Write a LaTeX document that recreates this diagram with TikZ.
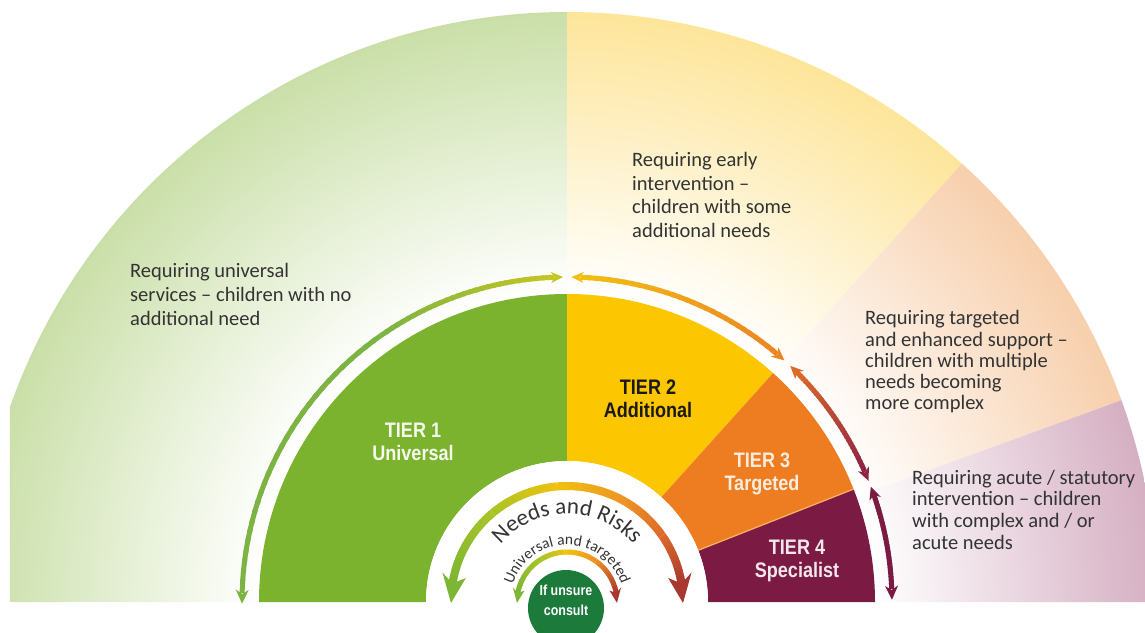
\documentclass[tikz,border=0pt]{standalone}
\usepackage{fontspec}
\newfontfamily\bodyf{Carlito}
\newfontfamily\tierf{Liberation Sans}[FakeStretch=0.86]
\usetikzlibrary{decorations.text}
\definecolor{bgGreen}{HTML}{CADFA8}
\definecolor{bgYellow}{HTML}{FDE59A}
\definecolor{bgPeach}{HTML}{F7CFAC}
\definecolor{bgMauve}{HTML}{D5AFC2}
\definecolor{tGreen}{HTML}{7BB32E}
\definecolor{tYellow}{HTML}{FCC600}
\definecolor{tOrange}{HTML}{EE7D22}
\definecolor{tMaroon}{HTML}{7B1B43}
\definecolor{cGreen}{HTML}{1C7A3B}
\definecolor{txt}{HTML}{333333}
\definecolor{aGreen}{HTML}{7CB342}
\definecolor{aYG}{HTML}{C3C623}
\definecolor{aYel}{HTML}{F2BE12}
\definecolor{aOr}{HTML}{EC8524}
\definecolor{aRO}{HTML}{DC6A2A}
\definecolor{aRed}{HTML}{8E2443}
\definecolor{aMar}{HTML}{7B1B43}
\definecolor{iGreen}{HTML}{7DB534}
\definecolor{iYG}{HTML}{A8C428}
\definecolor{iYel}{HTML}{EEC20E}
\definecolor{iOr}{HTML}{EE9224}
\definecolor{iRO}{HTML}{DC6A2A}
\definecolor{iRed}{HTML}{A8382F}
\pgfdeclareradialshading{bgG}{\pgfpointorigin}{color(0bp)=(white); color(13bp)=(white); color(25bp)=(bgGreen); color(50bp)=(bgGreen)}
\pgfdeclareradialshading{bgY}{\pgfpointorigin}{color(0bp)=(white); color(13bp)=(white); color(25bp)=(bgYellow); color(50bp)=(bgYellow)}
\pgfdeclareradialshading{bgP}{\pgfpointorigin}{color(0bp)=(white); color(13bp)=(white); color(25bp)=(bgPeach); color(50bp)=(bgPeach)}
\pgfdeclareradialshading{bgM}{\pgfpointorigin}{color(0bp)=(white); color(13bp)=(white); color(25bp)=(bgMauve); color(50bp)=(bgMauve)}
% gradient arc: radius, start angle, end angle, start colour, end colour, width
\newcommand\garc[6]{%
  \foreach \k in {0,...,29}{%
    \pgfmathsetmacro\aA{#2+(#3-#2)*\k/30}%
    \pgfmathsetmacro\aB{#2+(#3-#2)*min(\k+1.4,30)/30}%
    \pgfmathsetmacro\pP{100*\k/29}%
    \draw[line width=#6pt, draw=#5!\pP!#4] (\aA:#1pt) arc[start angle=\aA, end angle=\aB, radius=#1pt];
  }}
% arrow head: radius, tip angle, direction (+1/-1), colour, length, half width
\newcommand\ahead[6]{%
  \pgfmathsetmacro\hB{#2-(#3)*(#5)/(#1)*57.2958}%
  \pgfmathsetmacro\hN{#2-(#3)*0.7*(#5)/(#1)*57.2958}%
  \pgfmathsetmacro\hO{#1+#6}%
  \pgfmathsetmacro\hI{#1-#6}%
  \fill[#4] (#2:#1pt) -- (\hB:\hO pt) -- (\hN:#1pt) -- (\hB:\hI pt) -- cycle;}
\newcommand\bodyfont{\bodyf\fontsize{20.5}{24}\selectfont}
\newcommand\tierfont{\tierf\bfseries\fontsize{21}{23}\selectfont}
\newcommand\nrfont{\bodyf\fontsize{23}{23}\selectfont\color{txt}}
\newcommand\utfont{\bodyf\fontsize{15.5}{15.5}\selectfont\color{txt}}
\tikzset{
  desc/.style={anchor=base west, inner sep=0pt, text=txt, font=\bodyfont},
  tierlab/.style={anchor=center, inner sep=0pt, align=center, font=\tierfont}
}
\begin{document}
\begin{tikzpicture}[x=1pt,y=1pt]
\useasboundingbox (-567,-30) rectangle (578,602);
\fill[white] (-567,-30) rectangle (578,602);
% background fan
\begin{scope}
  \clip (-557,0) rectangle (578,602);
  \begin{scope}
    \clip (0,0) -- (180:590pt) arc[start angle=180,end angle=90,radius=590pt] -- cycle;
    \shade[shading=bgG] (0,0) circle[radius=590pt];
  \end{scope}
  \begin{scope}
    \clip (0,0) -- (90:590pt) arc[start angle=90,end angle=48,radius=590pt] -- cycle;
    \shade[shading=bgY] (0,0) circle[radius=590pt];
  \end{scope}
  \begin{scope}
    \clip (0,0) -- (48:590pt) arc[start angle=48,end angle=20,radius=590pt] -- cycle;
    \shade[shading=bgP] (0,0) circle[radius=590pt];
  \end{scope}
  \begin{scope}
    \clip (0,0) -- (20:590pt) arc[start angle=20,end angle=0,radius=590pt] -- cycle;
    \shade[shading=bgM] (0,0) circle[radius=590pt];
  \end{scope}
\end{scope}
% tiers
\fill[tGreen] (90:141pt) -- (90:308pt) arc[start angle=90,end angle=180,radius=308pt] -- (180:141pt) arc[start angle=180,end angle=90,radius=141pt] -- cycle;
\fill[tYellow] (48:141pt) -- (48:308pt) arc[start angle=48,end angle=90,radius=308pt] -- (90:141pt) arc[start angle=90,end angle=48,radius=141pt] -- cycle;
\fill[tOrange] (21.5:141pt) -- (21.5:308pt) arc[start angle=21.5,end angle=48,radius=308pt] -- (48:141pt) arc[start angle=48,end angle=21.5,radius=141pt] -- cycle;
\fill[tMaroon] (0:141pt) -- (0:308pt) arc[start angle=0,end angle=21.5,radius=308pt] -- (21.5:141pt) arc[start angle=21.5,end angle=0,radius=141pt] -- cycle;
\draw[line width=1.2pt, draw=orange!60!white] (21.5:141pt) -- (21.5:308pt);
\fill[white] (141pt,0) arc[start angle=0,end angle=180,radius=141pt] -- cycle;
% outer arrows
\garc{325}{178.4}{125}{aGreen}{aGreen}{5}
\garc{325}{125}{92.3}{aGreen}{aYG}{5}
\ahead{325}{180.3}{1}{aGreen}{14}{6.5}
\ahead{325}{90.7}{-1}{aYG}{12}{5.5}
\garc{325}{87.6}{49.7}{aYel}{aOr}{5}
\ahead{325}{89.2}{1}{aYel}{12}{5.5}
\ahead{325}{48}{-1}{aOr}{13}{6}
\garc{325}{45}{23.6}{aRO}{aRed}{5}
\ahead{325}{46.6}{1}{aRO}{13}{6}
\ahead{325}{21.9}{-1}{aRed}{13}{6}
\garc{325}{19.2}{2.3}{aMar}{aMar}{5}
\ahead{325}{20.8}{1}{aMar}{13}{6}
\ahead{325}{0.4}{-1}{aMar}{14}{6.5}
% inner big arrow
\garc{116}{171}{130}{iGreen}{iYG}{8}
\garc{116}{130}{95}{iYG}{iYel}{8}
\garc{116}{95}{60}{iYel}{iOr}{8}
\garc{116}{60}{35}{iOr}{iRO}{8}
\garc{116}{35}{9}{iRO}{iRed}{8}
\ahead{116}{180.5}{1}{iGreen}{28}{12}
\ahead{116}{-0.5}{-1}{iRed}{28}{12}
% small inner arrow
\garc{50}{170}{120}{iGreen}{iYG}{5}
\garc{50}{120}{90}{iYG}{iYel}{5}
\garc{50}{90}{55}{iYel}{iOr}{5}
\garc{50}{55}{10}{iOr}{iRed}{5}
\ahead{50}{181}{1}{iGreen}{14}{6}
\ahead{50}{-1}{-1}{iRed}{14}{6}
% texts along arcs
\path[decorate, decoration={text along path, text={|\nrfont|Needs and Risks}, text align=center}]
  (180:88pt) arc[start angle=180,end angle=0,radius=88pt];
\path[decorate, decoration={text along path, text={|\utfont|Universal and targeted}, text align=center}]
  (180:57pt) arc[start angle=180,end angle=0,radius=57pt];
% consult circle
\fill[cGreen] (-1,-6) circle[radius=38pt];
\node[anchor=center, inner sep=0pt, align=center, text=white, font=\tierf\bfseries\fontsize{14.5}{20}\selectfont] (consult) at (-1,2) {If unsure\\consult};
% tier labels
\node[tierlab, text=white!92!tGreen] (t1) at (-154,160.5) {TIER 1\\Universal};
\node[tierlab, text=black!90] (t2) at (81,203) {TIER 2\\Additional};
\node[tierlab, text=white!85!tOrange] (t3) at (195,128.5) {TIER 3\\Targeted};
\node[tierlab, text=white!90!tMaroon] (t4) at (230,41) {TIER 4\\Specialist};
% descriptions
\node[desc] (d1) at (-437,324) {\vtop{\baselineskip=24pt\hbox{Requiring universal}\hbox{services – children with no}\hbox{additional need}}};
\node[desc] (d2) at (65,435) {\vtop{\baselineskip=23.5pt\hbox{Requiring early}\hbox{intervention –}\hbox{children with some}\hbox{additional needs}}};
\node[desc] (d3) at (298,277) {\vtop{\baselineskip=21.2pt\hbox{Requiring targeted}\hbox{and enhanced support –}\hbox{children with multiple}\hbox{needs becoming}\hbox{more complex}}};
\node[desc] (d4) at (345,118) {\vtop{\baselineskip=21.7pt\hbox{Requiring acute / statutory}\hbox{intervention – children}\hbox{with complex and / or}\hbox{acute needs}}};
\end{tikzpicture}
\end{document}
